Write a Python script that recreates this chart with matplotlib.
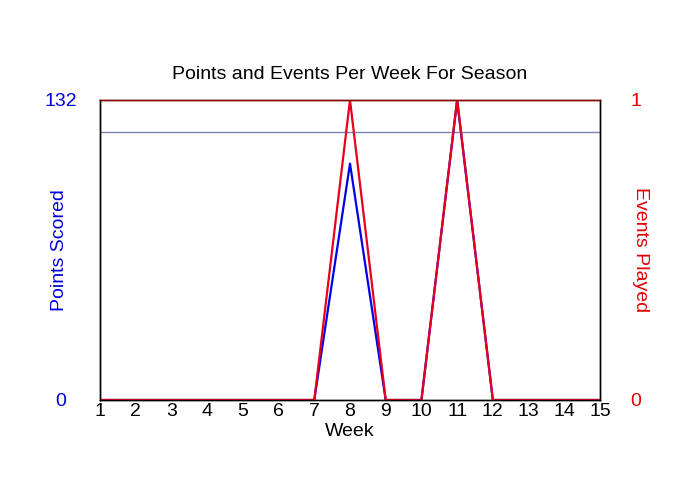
import matplotlib.pyplot as plt

plt.rcParams['font.family'] = ['Liberation Sans', 'DejaVu Sans']

weeks = [1, 2, 3, 4, 5, 6, 7, 8, 9, 10, 11, 12, 13, 14, 15]
points = [0, 0, 0, 0, 0, 0, 0, 104, 0, 0, 132, 0, 0, 0, 0]
events = [0, 0, 0, 0, 0, 0, 0, 1, 0, 0, 1, 0, 0, 0, 0]
avg_points = 118

fig = plt.figure(figsize=(7, 5), dpi=100)
ax = fig.add_axes([100/700, 0.2, 500/700, 0.6])
ax2 = ax.twinx()

ax.axhline(avg_points, color='#8080b8', lw=1)
ax.plot(weeks, points, color='#0000e6', lw=1.6)
ax2.plot(weeks, events, color='#e6001e', lw=1.6)

ax.set_xlim(1, 15)
ax.set_ylim(0, 132)
ax2.set_ylim(0, 1)
ax.set_xticks(weeks)
ax.set_yticks([0, 132])
ax2.set_yticks([0, 1])

ax.tick_params(axis='x', length=0, pad=2, labelsize=14)
ax.tick_params(axis='y', length=0, pad=28, labelsize=14, labelcolor='#0000e0')
ax2.tick_params(axis='y', length=0, pad=26, labelsize=14, labelcolor='#e00000')
for lab in ax.get_yticklabels() + ax2.get_yticklabels():
    lab.set_horizontalalignment('center')

for a in (ax, ax2):
    for s in a.spines.values():
        s.set_color('black')
        s.set_linewidth(1)
    a.spines['top'].set_color('#800000')

ax.set_xlabel('Week', fontsize=14, va='center')
ax.xaxis.set_label_coords(0.5, -32/300)
ax.set_ylabel('Points Scored', fontsize=14, color='#0000e0', va='center')
ax.yaxis.set_label_coords(-40/500, 0.5)
ax2.set_ylabel('Events Played', fontsize=14, color='#e00000', rotation=270, va='center')
ax2.yaxis.set_label_coords(541/500, 0.5)
ax.set_title('Points and Events Per Week For Season', fontsize=14, pad=15)

fig.savefig('out.png')
